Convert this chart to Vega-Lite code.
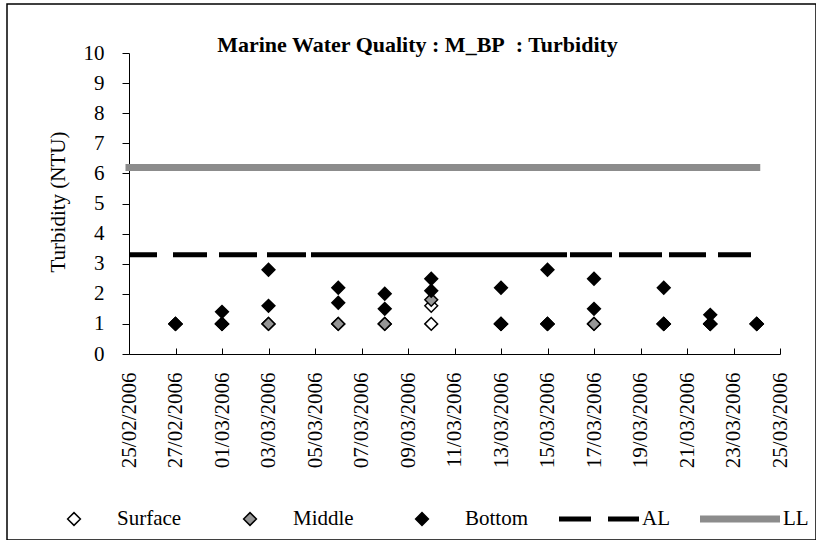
{
  "$schema": "https://vega.github.io/schema/vega-lite/v6.json",
  "width": 809,
  "height": 536,
  "autosize": {"type": "none"},
  "padding": {"left": 7, "top": 4, "right": 0, "bottom": 0},
  "title": {
    "text": "Marine Water Quality : M_BP\u00a0 : Turbidity",
    "anchor": "middle",
    "frame": "group",
    "offset": -70,
    "baseline": "alphabetic",
    "dx": 6,
    "font": "Liberation Serif",
    "fontSize": 22,
    "fontWeight": "bold",
    "color": "black"
  },
  "config": {
    "font": "Liberation Serif",
    "view": {"stroke": "black", "strokeWidth": 1.5},
    "axis": {"grid": false, "domainColor": "black", "tickColor": "black", "labelColor": "black", "titleColor": "black", "labelFont": "Liberation Serif", "titleFont": "Liberation Serif"},
    "legend": {"symbolFillColor": "black", "symbolStrokeColor": "black"}
  },
  "data": {
    "values": [
      {"date": "2006-02-27", "value": 1.0, "series": "Surface"},
      {"date": "2006-03-01", "value": 1.0, "series": "Surface"},
      {"date": "2006-03-03", "value": 1.0, "series": "Surface"},
      {"date": "2006-03-06", "value": 1.0, "series": "Surface"},
      {"date": "2006-03-08", "value": 1.0, "series": "Surface"},
      {"date": "2006-03-10", "value": 1.0, "series": "Surface"},
      {"date": "2006-03-10", "value": 1.6, "series": "Surface"},
      {"date": "2006-03-13", "value": 1.0, "series": "Surface"},
      {"date": "2006-03-15", "value": 1.0, "series": "Surface"},
      {"date": "2006-03-17", "value": 1.0, "series": "Surface"},
      {"date": "2006-03-20", "value": 1.0, "series": "Surface"},
      {"date": "2006-03-22", "value": 1.0, "series": "Surface"},
      {"date": "2006-03-24", "value": 1.0, "series": "Surface"},
      {"date": "2006-02-27", "value": 1.0, "series": "Middle"},
      {"date": "2006-03-01", "value": 1.0, "series": "Middle"},
      {"date": "2006-03-03", "value": 1.0, "series": "Middle"},
      {"date": "2006-03-06", "value": 1.0, "series": "Middle"},
      {"date": "2006-03-08", "value": 1.0, "series": "Middle"},
      {"date": "2006-03-10", "value": 1.8, "series": "Middle"},
      {"date": "2006-03-13", "value": 1.0, "series": "Middle"},
      {"date": "2006-03-15", "value": 1.0, "series": "Middle"},
      {"date": "2006-03-17", "value": 1.0, "series": "Middle"},
      {"date": "2006-03-20", "value": 1.0, "series": "Middle"},
      {"date": "2006-03-22", "value": 1.0, "series": "Middle"},
      {"date": "2006-03-24", "value": 1.0, "series": "Middle"},
      {"date": "2006-02-27", "value": 1.0, "series": "Bottom"},
      {"date": "2006-03-01", "value": 1.0, "series": "Bottom"},
      {"date": "2006-03-01", "value": 1.4, "series": "Bottom"},
      {"date": "2006-03-03", "value": 1.6, "series": "Bottom"},
      {"date": "2006-03-03", "value": 2.8, "series": "Bottom"},
      {"date": "2006-03-06", "value": 1.7, "series": "Bottom"},
      {"date": "2006-03-06", "value": 2.2, "series": "Bottom"},
      {"date": "2006-03-08", "value": 1.5, "series": "Bottom"},
      {"date": "2006-03-08", "value": 2.0, "series": "Bottom"},
      {"date": "2006-03-10", "value": 2.1, "series": "Bottom"},
      {"date": "2006-03-10", "value": 2.5, "series": "Bottom"},
      {"date": "2006-03-13", "value": 1.0, "series": "Bottom"},
      {"date": "2006-03-13", "value": 2.2, "series": "Bottom"},
      {"date": "2006-03-15", "value": 1.0, "series": "Bottom"},
      {"date": "2006-03-15", "value": 2.8, "series": "Bottom"},
      {"date": "2006-03-17", "value": 1.5, "series": "Bottom"},
      {"date": "2006-03-17", "value": 2.5, "series": "Bottom"},
      {"date": "2006-03-20", "value": 1.0, "series": "Bottom"},
      {"date": "2006-03-20", "value": 2.2, "series": "Bottom"},
      {"date": "2006-03-22", "value": 1.0, "series": "Bottom"},
      {"date": "2006-03-22", "value": 1.3, "series": "Bottom"},
      {"date": "2006-03-24", "value": 1.0, "series": "Bottom"},
      {"date": "2006-02-25", "value": 3.3, "series": "AL"},
      {"date": "2006-03-24", "value": 3.3, "series": "AL"},
      {"date": "2006-02-25", "value": 6.2, "series": "LL"},
      {"date": "2006-03-24", "value": 6.2, "series": "LL"}
    ]
  },
  "encoding": {
    "x": {
      "field": "date",
      "type": "temporal",
      "scale": {
        "type": "utc",
        "domain": [{"year": 2006, "month": 2, "date": 25, "utc": true}, {"year": 2006, "month": 3, "date": 25, "utc": true}],
        "range": [122, 773]
      },
      "axis": {
        "title": null,
        "values": [
          {"year": 2006, "month": 2, "date": 25, "utc": true},
          {"year": 2006, "month": 2, "date": 27, "utc": true},
          {"year": 2006, "month": 3, "date": 1, "utc": true},
          {"year": 2006, "month": 3, "date": 3, "utc": true},
          {"year": 2006, "month": 3, "date": 5, "utc": true},
          {"year": 2006, "month": 3, "date": 7, "utc": true},
          {"year": 2006, "month": 3, "date": 9, "utc": true},
          {"year": 2006, "month": 3, "date": 11, "utc": true},
          {"year": 2006, "month": 3, "date": 13, "utc": true},
          {"year": 2006, "month": 3, "date": 15, "utc": true},
          {"year": 2006, "month": 3, "date": 17, "utc": true},
          {"year": 2006, "month": 3, "date": 19, "utc": true},
          {"year": 2006, "month": 3, "date": 21, "utc": true},
          {"year": 2006, "month": 3, "date": 23, "utc": true},
          {"year": 2006, "month": 3, "date": 25, "utc": true}
        ],
        "labelExpr": "utcFormat(datum.value, '%d/%m/%Y')",
        "labelAngle": 270,
        "labelFontSize": 21,
        "tickSize": -6,
        "labelPadding": 24,
        "offset": -186,
        "labelOverlap": false,
        "labelFlush": false,
        "labelBound": false
      }
    },
    "y": {
      "field": "value",
      "type": "quantitative",
      "scale": {"domain": [0, 10], "range": [350, 49], "nice": false, "zero": true},
      "axis": {
        "title": "Turbidity (NTU)",
        "values": [0, 1, 2, 3, 4, 5, 6, 7, 8, 9, 10],
        "offset": -122,
        "tickSize": 7,
        "labelPadding": 18,
        "labelFontSize": 21,
        "titleFontSize": 21,
        "titleFontWeight": "normal",
        "titleAngle": 270,
        "titleAlign": "center",
        "titleBaseline": "middle",
        "titleX": -71,
        "titleY": 197.5,
        "labelFlush": false,
        "labelOverlap": false
      }
    }
  },
  "layer": [
    {
      "transform": [{"filter": "datum.series === 'LL'"}],
      "mark": {"type": "line", "color": "#8c8c8c", "strokeWidth": 7, "strokeCap": "square"}
    },
    {
      "transform": [{"filter": "datum.series === 'AL'"}],
      "mark": {"type": "line", "color": "black", "strokeWidth": 5, "strokeCap": "butt", "strokeDash": [28, 16, 34, 12, 38, 10, 39, 5, 256, 3, 42, 7, 43, 7, 37, 12, 33, 40]}
    },
    {
      "transform": [{"filter": "datum.series !== 'AL' && datum.series !== 'LL'"}],
      "mark": {"type": "point", "filled": true, "size": 6400, "strokeWidth": 1.5, "opacity": 1},
      "encoding": {
        "fill": {
          "field": "series",
          "type": "nominal",
          "scale": {"domain": ["Surface", "Middle", "Bottom", "AL", "LL"], "range": ["white", "#969696", "black", "black", "#8c8c8c"]},
          "legend": {
            "title": null, "orient": "none", "direction": "horizontal", "legendX": 26, "legendY": 474, "padding": 0,
            "symbolSize": 6400, "symbolStrokeWidth": 1.5, "symbolOffset": 0, "labelOffset": 2, "columnPadding": 27,
            "labelFont": "Liberation Serif", "labelFontSize": 21, "labelColor": "black", "labelLimit": 0
          }
        },
        "stroke": {
          "field": "series",
          "type": "nominal",
          "scale": {"domain": ["Surface", "Middle", "Bottom", "AL", "LL"], "range": ["black", "black", "black", "transparent", "transparent"]},
          "legend": {
            "title": null, "orient": "none", "direction": "horizontal", "legendX": 26, "legendY": 474, "padding": 0,
            "symbolSize": 6400, "symbolStrokeWidth": 1.5, "symbolOffset": 0, "labelOffset": 2, "columnPadding": 27,
            "labelFont": "Liberation Serif", "labelFontSize": 21, "labelColor": "black", "labelLimit": 0
          }
        },
        "shape": {
          "field": "series",
          "type": "nominal",
          "scale": {
            "domain": ["Surface", "Middle", "Bottom", "AL", "LL"],
            "range": [
              "M-0.16,0L0,-0.16L0.16,0L0,0.16Z",
              "M-0.16,0L0,-0.16L0.16,0L0,0.16Z",
              "M-0.16,0L0,-0.16L0.16,0L0,0.16Z",
              "M-1,-0.0625L-0.2,-0.0625L-0.2,0.0625L-1,0.0625Z M0.225,-0.0625L1,-0.0625L1,0.0625L0.225,0.0625Z",
              "M-1,-0.0875L1,-0.0875L1,0.0875L-1,0.0875Z"
            ]
          },
          "legend": {
            "title": null, "orient": "none", "direction": "horizontal", "legendX": 26, "legendY": 474, "padding": 0,
            "symbolSize": 6400, "symbolStrokeWidth": 1.5, "symbolOffset": 0, "labelOffset": 2, "columnPadding": 27,
            "labelFont": "Liberation Serif", "labelFontSize": 21, "labelColor": "black", "labelLimit": 0
          }
        }
      }
    }
  ]
}
